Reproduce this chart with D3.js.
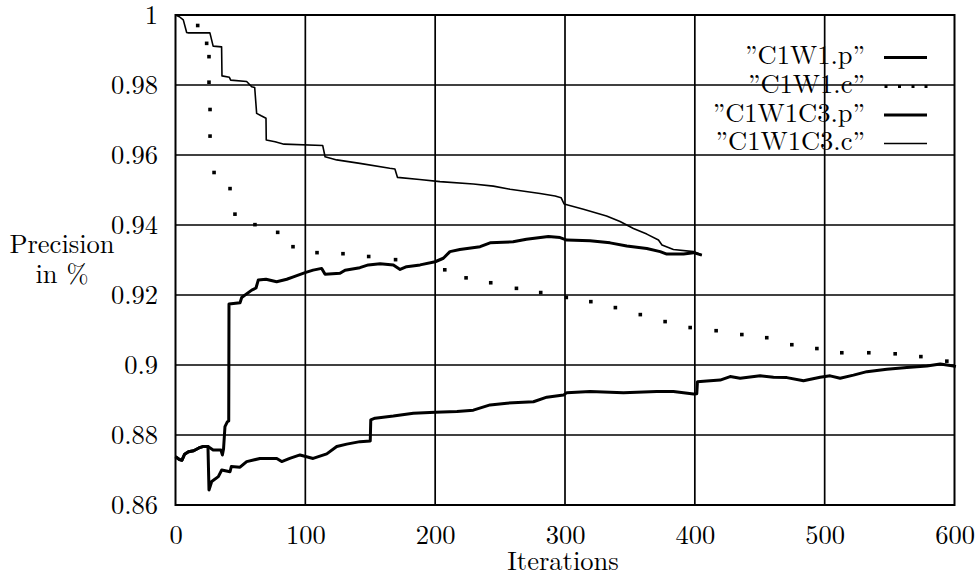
<!DOCTYPE html>
<html>
<head>
<meta charset="utf-8">
<script src="https://cdn.jsdelivr.net/npm/d3@7"></script>
<style>
  html, body { margin: 0; padding: 0; background: #fff; }
  svg { display: block; }
</style>
</head>
<body>
<svg id="chart" width="975" height="575"></svg>
<script>
// ---------- data ----------
const xTicks = [0, 100, 200, 300, 400, 500, 600];
const yTicks = [0.86, 0.88, 0.9, 0.92, 0.94, 0.96, 0.98, 1];
const yTickLabels = ["0.86", "0.88", "0.9", "0.92", "0.94", "0.96", "0.98", "1"];
const seriesNames = ["\u201DC1W1.p\u201D", "\u201DC1W1.c\u201D", "\u201DC1W1C3.p\u201D", "\u201DC1W1C3.c\u201D"];
const xTitle = "Iterations";
const yTitleLines = ["Precision", "in %"];

const c1w1p = [[0,0.8738],[3,0.8730],[5,0.8728],[7,0.8745],[10,0.8752],[14,0.8755],[18,0.8763],[21,0.8767],[25,0.8767],[25.8,0.8643],[27.9,0.8667],[33,0.8681],[35.6,0.8700],[42,0.8695],[43,0.8710],[49.7,0.8708],[54.8,0.8724],[65,0.8733],[78,0.8733],[81.8,0.8724],[88,0.8733],[95.9,0.8743],[106,0.8733],[116.5,0.8746],[124.2,0.8767],[131.9,0.8774],[142.1,0.8781],[150,0.8783],[150.4,0.8843],[153.7,0.8848],[167.8,0.8854],[183.2,0.8862],[200,0.8865],[216.8,0.8867],[229.4,0.8871],[242.3,0.8886],[255.2,0.8891],[275.7,0.8895],[286,0.8908],[298.8,0.8914],[301.4,0.8921],[319.3,0.8924],[345,0.8921],[370.7,0.8924],[383.5,0.8924],[399,0.8917],[401.5,0.8918],[402,0.8952],[409.2,0.8954],[419.5,0.8957],[427.2,0.8967],[434.9,0.8962],[450.3,0.8969],[460.6,0.8965],[470.9,0.8964],[483.7,0.8955],[496.5,0.8965],[504.2,0.8969],[511.9,0.8962],[522.2,0.8971],[532.5,0.8981],[547.9,0.8988],[563.3,0.8993],[578.7,0.8997],[589,0.9003],[599.3,0.8997],[601,0.8995]];

const c1w1c = [[17.1,0.997],[24,0.9919],[25.8,0.9881],[25.8,0.9808],[26.6,0.973],[26.6,0.9654],[29.7,0.955],[42,0.9504],[45.8,0.9431],[61.2,0.9401],[78.7,0.9379],[90.5,0.9338],[109,0.9321],[129,0.9318],[148.8,0.931],[169.5,0.9301],[207.4,0.9272],[223.8,0.9249],[242.8,0.9235],[262.6,0.9219],[281.3,0.9207],[301,0.9193],[319.9,0.9181],[338.8,0.9164],[358,0.9144],[377.1,0.9124],[396.4,0.9107],[416.4,0.9098],[436.2,0.9087],[455.4,0.9078],[474.7,0.9058],[494,0.9047],[513.2,0.9035],[534,0.9035],[554.3,0.9032],[574.1,0.9024],[594.1,0.9011]];

const c1w1c3p = [[0,0.8738],[3,0.8730],[5,0.8728],[7,0.8745],[10,0.8752],[14,0.8755],[18,0.8763],[21,0.8767],[25,0.8767],[29,0.8757],[35,0.8757],[36.1,0.8743],[37,0.8760],[38.1,0.8824],[40,0.8838],[41,0.8840],[41.2,0.9174],[49.7,0.9178],[51,0.9193],[58.7,0.9214],[62,0.9220],[63.8,0.9243],[69.7,0.9245],[77.9,0.9238],[85.7,0.9245],[90.8,0.9252],[99.8,0.9264],[106,0.9271],[112.6,0.9276],[115.2,0.9259],[126.7,0.9262],[130.6,0.9271],[142,0.9278],[148.5,0.9286],[157.6,0.9289],[167.8,0.9286],[173,0.9273],[178,0.9281],[188.4,0.9286],[200,0.9295],[206.3,0.9305],[211.4,0.9324],[219,0.933],[234.6,0.9338],[242.3,0.9349],[260,0.9352],[270.3,0.9359],[287.2,0.9367],[296.2,0.9364],[301.4,0.9357],[319.3,0.9355],[334.7,0.9349],[347.6,0.934],[363,0.9333],[373.3,0.9324],[378.4,0.9317],[391.3,0.9317],[399,0.9321],[405.4,0.9314]];

const c1w1c3c = [[0,1.0],[3,0.9995],[6,0.9986],[8.6,0.995],[10,0.9949],[26.5,0.9949],[29,0.9911],[35.5,0.9909],[35.8,0.9826],[41.5,0.9822],[42.5,0.9814],[54.8,0.981],[58.7,0.9795],[61,0.9793],[62.5,0.9719],[66,0.9712],[69.7,0.9705],[69.9,0.9643],[76.7,0.9638],[83.6,0.9631],[113.4,0.9627],[115.2,0.9595],[124.2,0.9586],[142,0.9576],[165,0.9562],[169,0.956],[171,0.9536],[188,0.953],[203.7,0.9524],[229.4,0.9517],[244.8,0.9511],[257.7,0.9502],[280.8,0.949],[292.4,0.9483],[297,0.9478],[299.3,0.946],[314.2,0.9445],[332,0.9426],[342.4,0.941],[352.7,0.939],[363,0.9374],[372,0.9357],[374.7,0.9343],[383.5,0.933],[399,0.9324],[405.4,0.9314]];

// ---------- layout ----------
const FAMILY = '"Latin Modern Roman", "Liberation Serif", serif';
const svg = d3.select("#chart").attr("font-family", FAMILY);
const L = 175.5, R = 954.5, T = 15, B = 505;
const FONT = 26.5;
const x = d3.scaleLinear().domain([0, 600]).range([L, R]);
const y = d3.scaleLinear().domain([0.86, 1]).range([B, T]);

// grid
const grid = svg.append("g").attr("stroke", "#000").attr("stroke-width", 1.7);
grid.selectAll("line.h").data(yTicks.slice(1, -1)).join("line")
  .attr("x1", L).attr("x2", R).attr("y1", d => y(d)).attr("y2", d => y(d));
grid.selectAll("line.v").data(xTicks.slice(1, -1)).join("line")
  .attr("y1", T).attr("y2", B).attr("x1", d => x(d)).attr("x2", d => x(d));

// frame
svg.append("rect").attr("x", L).attr("y", T).attr("width", R - L).attr("height", B - T)
  .attr("fill", "none").attr("stroke", "#000").attr("stroke-width", 2);

// axes (labels only)
const yAxis = d3.axisLeft(y).tickValues(yTicks).tickFormat((d, i) => yTickLabels[i]).tickSize(0).tickPadding(17.5);
const gy = svg.append("g").attr("transform", `translate(${L},0)`).call(yAxis);
gy.attr("font-family", FAMILY).attr("font-size", FONT);
gy.select(".domain").remove();
gy.selectAll("text").attr("fill", "#000").attr("dy", "0.33em");

const xAxis = d3.axisBottom(x).tickValues(xTicks).tickFormat(d3.format("d")).tickSize(0).tickPadding(20);
const gx = svg.append("g").attr("transform", `translate(0,${B})`).call(xAxis);
gx.attr("font-family", FAMILY).attr("font-size", FONT);
gx.select(".domain").remove();
gx.selectAll("text").attr("fill", "#000");

// titles
svg.append("text").attr("x", (L + R) / 2 - 2).attr("y", 570).attr("text-anchor", "middle")
  .attr("font-size", FONT).text(xTitle);
svg.append("text").attr("x", 62).attr("y", 253).attr("text-anchor", "middle")
  .attr("font-size", FONT).text(yTitleLines[0]);
svg.append("text").attr("x", 62).attr("y", 283).attr("text-anchor", "middle")
  .attr("font-size", FONT).text(yTitleLines[1]);

// lines
const line = d3.line().x(d => x(d[0])).y(d => y(d[1]));
svg.append("path").datum(c1w1p).attr("d", line).attr("fill", "none").attr("stroke", "#000").attr("stroke-width", 3).attr("stroke-linejoin", "round");
svg.append("path").datum(c1w1c3p).attr("d", line).attr("fill", "none").attr("stroke", "#000").attr("stroke-width", 3).attr("stroke-linejoin", "round");
svg.append("path").datum(c1w1c3c).attr("d", line).attr("fill", "none").attr("stroke", "#000").attr("stroke-width", 1.6).attr("stroke-linejoin", "round");
const DS = 3.6;
svg.append("g").selectAll("rect").data(c1w1c).join("rect")
  .attr("x", d => x(d[0]) - DS / 2).attr("y", d => y(d[1]) - DS / 2)
  .attr("width", DS).attr("height", DS).attr("fill", "#000");

// legend
const legY = [57.5, 86.5, 115, 143.5];
const legText = svg.append("g");
seriesNames.forEach((name, i) => {
  legText.append("text").attr("x", 865).attr("y", legY[i] + 6.5).attr("text-anchor", "end")
    .attr("font-size", FONT).text(name);
});
const legLines = [[0, 3], [2, 3], [3, 1.6]];
legLines.forEach(([i, w]) => {
  svg.append("line").attr("x1", 884).attr("x2", 927).attr("y1", legY[i]).attr("y2", legY[i])
    .attr("stroke", "#000").attr("stroke-width", w);
});
const legDots = [886, 899.5, 913, 926];
svg.append("g").selectAll("rect").data(legDots).join("rect")
  .attr("x", d => d - 1.5).attr("y", legY[1] - 1.5).attr("width", 3).attr("height", 3).attr("fill", "#000");
</script>
</body>
</html>
